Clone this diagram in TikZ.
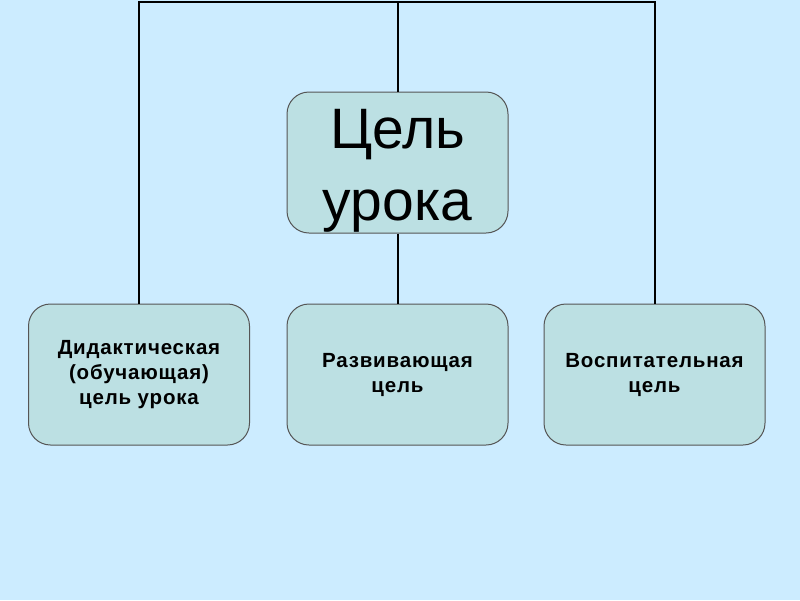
\documentclass[tikz,border=0pt]{standalone}
\usepackage{fontspec}
\setmainfont{Liberation Sans}
\usetikzlibrary{positioning}
\definecolor{sky}{RGB}{204,236,255}
\definecolor{teal}{RGB}{188,224,227}
\definecolor{rim}{RGB}{85,85,85}

\begin{document}
\begin{tikzpicture}[x=1pt,y=-1pt]

\tikzstyle{box}=[draw=rim,line width=1pt,fill=teal,rounded corners=22pt,
  minimum width=221pt,minimum height=141pt,inner sep=0pt,align=center]
\tikzstyle{sub}=[box,font=\fontsize{20.5}{25}\selectfont\bfseries\addfontfeature{LetterSpace=4}]
\tikzstyle{link}=[line width=2pt]

  \fill[sky] (0,0) rectangle (800,600);

  \node[box,font=\fontsize{57}{72}\selectfont,text height=128pt,text depth=13pt]
    (goal) at (397.5,162.5) {Цель\\урока};
  \node[sub] (did) at (139,374.5) {Дидактическая\\ (обучающая)\\цель урока};
  \node[sub] (raz) at (397.5,374.5) {Развивающая\\цель};
  \node[sub] (vos) at (654.5,374.5) {Воспитательная\\цель};

  \coordinate (top) at (397.5,2);
  \draw[link] (did.north) |- (top) -| (vos.north);
  \draw[link] (top) -- (goal.north);
  \draw[link] (goal.south) -- (raz.north);
\end{tikzpicture}
\end{document}
